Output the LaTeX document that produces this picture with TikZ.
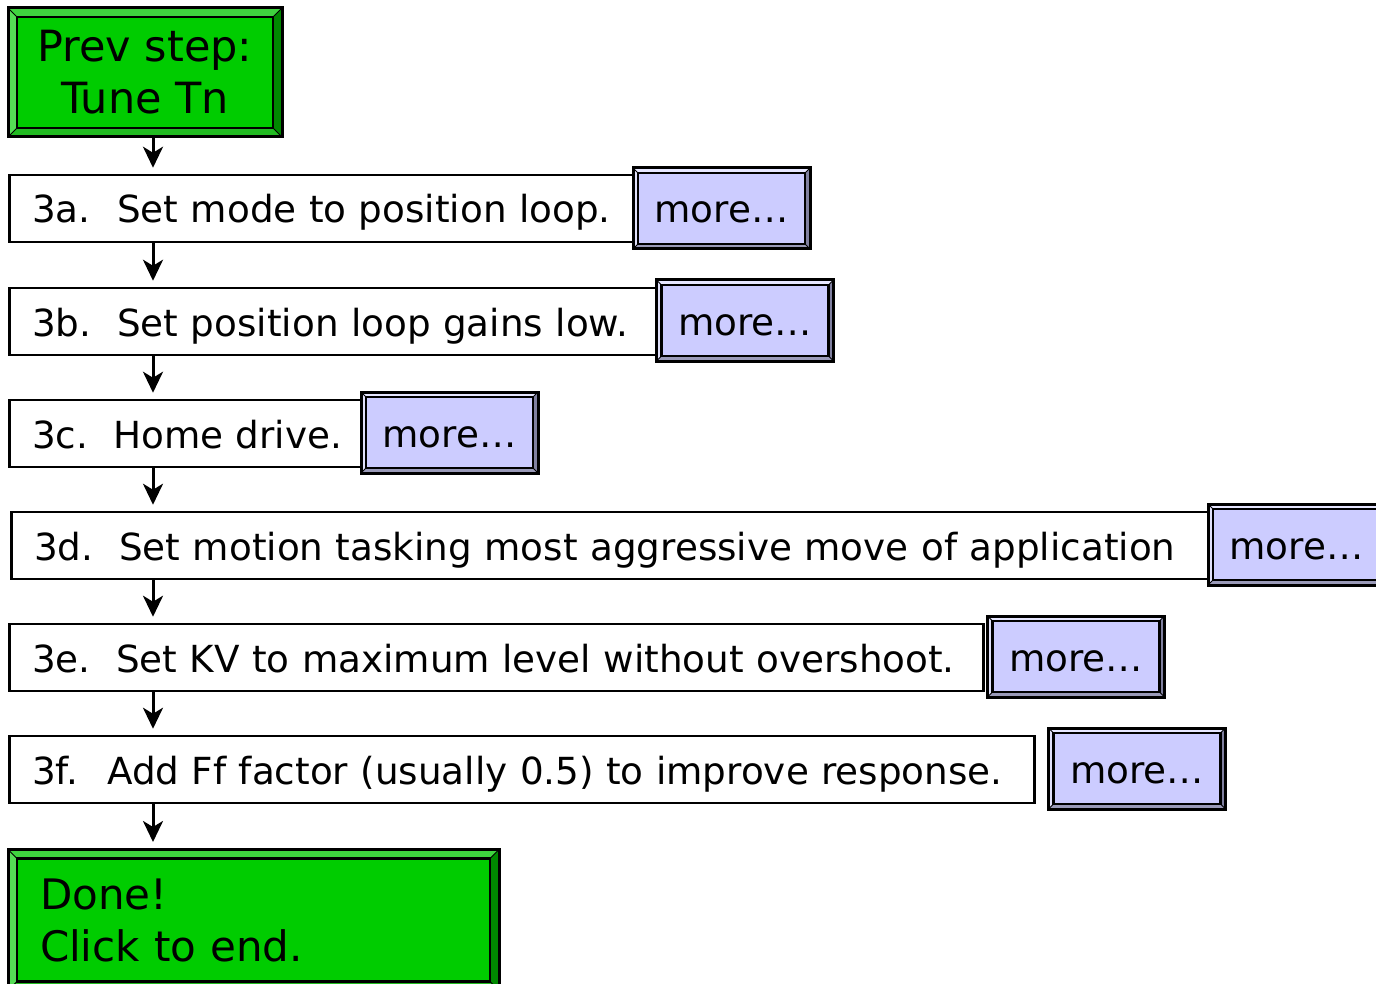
\documentclass[tikz,border=0pt]{standalone}
\usepackage{fontspec}
\setmainfont{DejaVu Sans}
\usetikzlibrary{arrows.meta}
\definecolor{gbase}{HTML}{00CC00}
\definecolor{gtop}{HTML}{3FD43F}
\definecolor{gleft}{HTML}{55DD55}
\definecolor{gbot}{HTML}{22BB22}
\definecolor{gright}{HTML}{008800}
\definecolor{mbase}{HTML}{CCCCFF}
\definecolor{mtop}{HTML}{E6E6FF}
\definecolor{mleft}{HTML}{E0E0FA}
\definecolor{mbot}{HTML}{9A9AB8}
\definecolor{mright}{HTML}{8080A0}
% bevel drawn inside a node: #1 inset, #2 colour prefix
\newcommand\bevfill[2]{%
  \fill[#2top] (path picture bounding box.north west) -- (path picture bounding box.north east)
    -- ([shift={(-#1,#1)}]path picture bounding box.north east) -- ([shift={(#1,#1)}]path picture bounding box.north west) -- cycle;
  \fill[#2left] (path picture bounding box.north west) -- (path picture bounding box.south west)
    -- ([shift={(#1,-#1)}]path picture bounding box.south west) -- ([shift={(#1,#1)}]path picture bounding box.north west) -- cycle;
  \fill[#2bot] (path picture bounding box.south west) -- (path picture bounding box.south east)
    -- ([shift={(-#1,-#1)}]path picture bounding box.south east) -- ([shift={(#1,-#1)}]path picture bounding box.south west) -- cycle;
  \fill[#2right] (path picture bounding box.north east) -- (path picture bounding box.south east)
    -- ([shift={(-#1,-#1)}]path picture bounding box.south east) -- ([shift={(-#1,#1)}]path picture bounding box.north east) -- cycle;
  \draw[line width=2.5pt] ([shift={(#1,#1)}]path picture bounding box.north west) rectangle ([shift={(-#1,-#1)}]path picture bounding box.south east);
  \draw[line width=1pt] (path picture bounding box.north west) -- ([shift={(#1,#1)}]path picture bounding box.north west)
    (path picture bounding box.north east) -- ([shift={(-#1,#1)}]path picture bounding box.north east)
    (path picture bounding box.south west) -- ([shift={(#1,-#1)}]path picture bounding box.south west)
    (path picture bounding box.south east) -- ([shift={(-#1,-#1)}]path picture bounding box.south east);
}
\tikzset{
  greenbox/.style={draw, line width=3pt, fill=gbase, path picture={\bevfill{9}{g}},
    font=\fontsize{43}{52}\selectfont, inner sep=0pt},
  morebox/.style={draw, line width=3pt, fill=mbase, path picture={\bevfill{5}{m}},
    minimum width=177pt, minimum height=81pt, inner sep=0pt,
    text height=29pt, text depth=0pt,
    font=\fontsize{37.3}{44}\selectfont},
  stepbox/.style={draw, line width=2.5pt, fill=white, anchor=west, minimum height=67pt,
    inner xsep=23pt, inner ysep=0pt, align=left, text height=29pt, text depth=0pt,
    font=\fontsize{37.3}{44}\selectfont},
  arr/.style={line width=3pt, -{Stealth[length=21pt, width=20pt, inset=6pt]}, shorten >=6pt},
}
\newcommand\num[1]{\makebox[85pt][l]{#1}}
\begin{document}
\begin{tikzpicture}[x=1pt, y=-1pt]
\useasboundingbox (0,0) rectangle (1376,984);
\node[greenbox, minimum width=274pt, minimum height=129pt, align=center] (g1) at (145,72.5) {Prev step:\\Tune Tn};
\node[stepbox, text width=579pt] (s3a) at (8,208.5) {\mbox{\num{3a.}Set mode to position loop.}};
\node[morebox] (m3a) at (721.5,208.5) {more\textellipsis};
\node[stepbox, text width=603pt] (s3b) at (8,321.5) {\mbox{\num{3b.}Set position loop gains low.}};
\node[morebox] (m3b) at (745,320.5) {more\textellipsis};
\node[stepbox, text width=308pt] (s3c) at (8,433.5) {\mbox{\makebox[81pt][l]{3c.}Home drive.}};
\node[morebox] (m3c) at (449.5,432.5) {more\textellipsis};
\node[stepbox, text width=1152pt] (s3d) at (10,545.5) {\mbox{\num{3d.}Set motion tasking most aggressive move of application}};
\node[morebox] (m3d) at (1296.5,544.5) {more\textellipsis};
\node[stepbox, text width=928pt] (s3e) at (8,657.5) {\mbox{\makebox[84pt][l]{3e.}Set KV to maximum level without overshoot.}};
\node[morebox] (m3e) at (1076,656.5) {more\textellipsis};
\node[stepbox, text width=979pt] (s3f) at (8,769.5) {\mbox{\makebox[75pt][l]{3f.}Add Ff factor (usually 0.5) to improve response.}};
\node[morebox] (m3f) at (1137,768.5) {more\textellipsis};
\node[greenbox, font=\fontsize{42}{52}\selectfont, minimum width=491pt, minimum height=141pt, align=left, text width=427pt, inner xsep=32pt] (done) at (253.5,920) {Done!\\Click to end.};
\coordinate (ax) at (153,0);
\draw[arr] (g1.south -| ax) -- (s3a.north -| ax);
\draw[arr] (s3a.south -| ax) -- (s3b.north -| ax);
\draw[arr] (s3b.south -| ax) -- (s3c.north -| ax);
\draw[arr] (s3c.south -| ax) -- (s3d.north -| ax);
\draw[arr] (s3d.south -| ax) -- (s3e.north -| ax);
\draw[arr] (s3e.south -| ax) -- (s3f.north -| ax);
\draw[arr] (s3f.south -| ax) -- (done.north -| ax);
\end{tikzpicture}
\end{document}
